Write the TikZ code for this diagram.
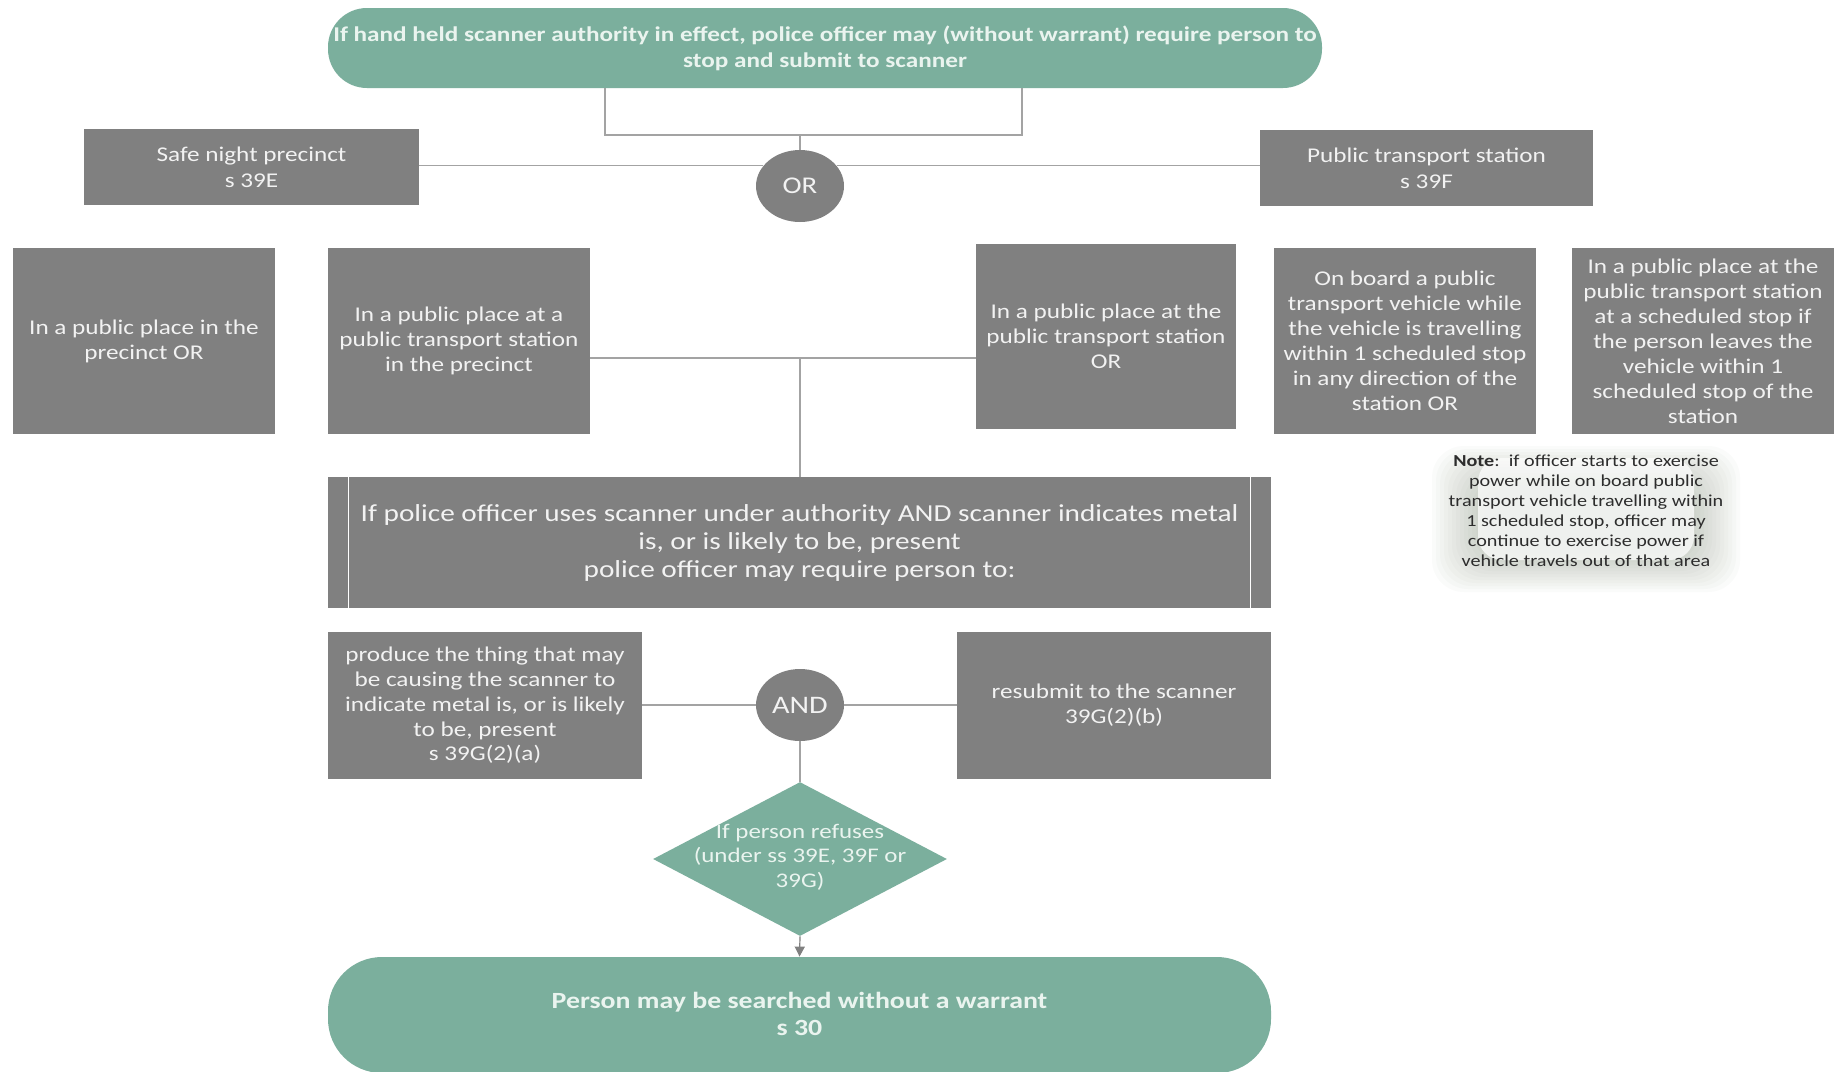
\documentclass[tikz,border=0pt]{standalone}
\usepackage{fontspec}
\setmainfont{Carlito}[FakeStretch=1.2]
\usetikzlibrary{shapes.geometric,arrows.meta,calc}
\definecolor{tealc}{HTML}{7BAF9D}
\definecolor{gboxc}{HTML}{808080}
\definecolor{linc}{HTML}{A3A3A3}
\definecolor{palec}{HTML}{EAF4EF}
\definecolor{haloc}{RGB}{120,132,112}
\tikzset{
  gbox/.style={fill=gboxc, text={rgb,255:red,242;green,242;blue,242}, inner sep=0pt, align=center, font=\fontsize{10.5}{12.5}\selectfont},
  tbox/.style={fill=tealc, text=palec, inner sep=0pt, align=center},
  gate/.style={ellipse, fill=gboxc, text={rgb,255:red,242;green,242;blue,242}, inner sep=0pt, minimum width=44pt, minimum height=36pt, font=\fontsize{12}{14}\selectfont},
  conn/.style={draw=linc, line width=0.6pt},
  plain/.style={inner sep=0pt, align=center}
}
\begin{document}
\begin{tikzpicture}[x=0.5pt,y=-0.5pt]
\fill[white] (0,0) rectangle (1834,1071);
\useasboundingbox (0,0) rectangle (1834,1071);

% top stadium
\node[tbox, rounded corners=19.5pt, minimum width=497pt, minimum height=40pt, font=\bfseries\fontsize{10.5}{12.9}\selectfont] (top) at (825,48)
  {If hand held scanner authority in effect, police officer may (without warrant) require person to\\stop and submit to scanner};

% OR gate and first level
\node[gate] (or) at (800,186) {OR};
\node[gbox, minimum width=167.5pt, minimum height=38pt, font=\fontsize{10.5}{12.8}\selectfont] (safe) at (251.5,167) {Safe night precinct\\s 39E};
\node[gbox, minimum width=166.5pt, minimum height=38pt, font=\fontsize{10.5}{12.8}\selectfont] (pts) at (1426.5,168) {Public transport station\\s 39F};

% second level
\node[gbox, minimum width=131pt, minimum height=93pt] (a) at (144,341) {In a public place in the\\precinct OR};
\node[gbox, minimum width=131pt, minimum height=93pt] (b) at (459,341) {In a public place at a\\public transport station\\in the precinct};
\node[gbox, minimum width=130pt, minimum height=92.5pt] (c) at (1106,336.5) {In a public place at the\\public transport station\\OR};
\node[gbox, minimum width=131pt, minimum height=93pt] (d) at (1405,341) {On board a public\\transport vehicle while\\the vehicle is travelling\\within 1 scheduled stop\\in any direction of the\\station OR};
\node[gbox, minimum width=131pt, minimum height=93pt] (e) at (1703,341) {In a public place at the\\public transport station\\at a scheduled stop if\\the person leaves the\\vehicle within 1\\scheduled stop of the\\station};

% note with halo
\foreach \i in {0,...,13}{
  \fill[haloc, opacity=0.03, rounded corners=16pt]
    ({1432+4*\i},{446+3*\i}) rectangle ({1740-4*\i},{592-3*\i});
}
\fill[white, opacity=0.7, rounded corners=12pt] (1478,458) rectangle (1694,560);
\node[plain, text={rgb,255:red,45;green,45;blue,45}, font=\fontsize{8.4}{10}\selectfont] (note) at (1586,511)
  {\textbf{Note}:\ \ if officer starts to exercise\\power while on board public\\transport vehicle travelling within\\1 scheduled stop, officer may\\continue to exercise power if\\vehicle travels out of that area};

% scanner box
\node[gbox, minimum width=471.5pt, minimum height=65.5pt, font=\fontsize{12.2}{14}\selectfont] (scan) at (799.5,542.5)
  {If police officer uses scanner under authority AND scanner indicates metal\\is, or is likely to be, present\\police officer may require person to:};
\draw[white, line width=0.7pt] ($(scan.north west)+(21,0)$) -- ($(scan.south west)+(21,0)$);
\draw[white, line width=0.7pt] ($(scan.north east)+(-21,0)$) -- ($(scan.south east)+(-21,0)$);

% third level
\node[gate, font=\fontsize{12.6}{14}\selectfont] (and) at (800,705) {AND};
\node[gbox, minimum width=157pt, minimum height=73.5pt, font=\fontsize{10.5}{12.4}\selectfont] (prod) at (485,705.5)
  {produce the thing that may\\be causing the scanner to\\indicate metal is, or is likely\\to be, present\\s 39G(2)(a)};
\node[gbox, minimum width=157pt, minimum height=73.5pt, font=\fontsize{10.5}{12.4}\selectfont] (res) at (1114,705.5)
  {resubmit to the scanner\\39G(2)(b)};

% diamond
\node[diamond, fill=tealc, inner sep=0pt, minimum width=147pt, minimum height=77pt] (dia) at (800,859) {};
\node[plain, text=palec, font=\fontsize{10.4}{12.3}\selectfont] (diat) at (800,857) {If person refuses\\(under ss 39E, 39F or\\39G)};

% final stadium
\node[tbox, rounded corners=27pt, minimum width=471.5pt, minimum height=58pt] (fin) at (799.5,1015) {};
\node[plain, text=palec, font=\bfseries\fontsize{11.6}{13.6}\selectfont] (fint) at (799.5,1014) {Person may be searched without a warrant\\s 30};

% connectors
\coordinate (bl) at (605,135);
\coordinate (br) at (1022,135);
\coordinate (bm) at (800,135);
\draw[conn] (top.south -| bl) -- (bl) -- (br) -- (top.south -| br);
\draw[conn] (bm) -- (or.north);
\draw[conn] (safe.east |- or.151) -- (or.151);
\draw[conn] (or.29) -- (pts.west |- or.29);
\coordinate (j) at (800,358);
\draw[conn] (b.east |- j) -- (c.west |- j);
\draw[conn] (j) -- (scan.north -| j);
\draw[conn] (prod.east |- and.west) -- (and.west);
\draw[conn] (and.east) -- (res.west |- and.east);
\draw[conn] (and.south) -- (dia.north);
\draw[conn, -{Triangle[length=5pt,width=5pt]}, draw=gray, fill=gray] (dia.south) -- (fin.north);
\end{tikzpicture}
\end{document}
